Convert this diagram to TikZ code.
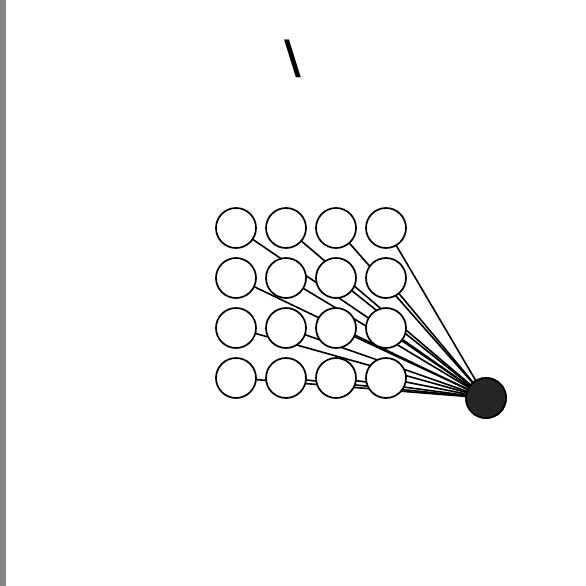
\documentclass[tikz,border=0pt]{standalone}
\usepackage{fontspec}
\newfontfamily\symfont{DejaVu Sans}
\begin{document}
\begin{tikzpicture}[x=1pt,y=-1pt,
  inunit/.style={circle,draw=black,fill=white,line width=1.7pt,minimum size=40pt,inner sep=0pt},
  outunit/.style={circle,draw=black,fill=black!85,line width=1.7pt,minimum size=40pt,inner sep=0pt},
  conn/.style={line width=1.6pt,black}]
\useasboundingbox (0,0) rectangle (586,586);
\fill[fill=black!47] (0,0) rectangle (6,586);
\node[font=\symfont\bfseries\fontsize{46}{48}\selectfont,inner sep=0pt] (slash) at (293,59) {\textbackslash};
\node[outunit] (out) at (486,398) {};
\foreach \i in {1,...,4}{
  \foreach \j in {1,...,4}{
    \coordinate (c\i\j) at ({186+50*\j},{178+50*\i});
    \draw[conn] (c\i\j) -- (out);
  }
}
\foreach \i in {1,...,4}{
  \foreach \j in {1,...,4}{
    \node[inunit] (n\i\j) at (c\i\j) {};
  }
}
\node[outunit] at (out) {};
\end{tikzpicture}
\end{document}
